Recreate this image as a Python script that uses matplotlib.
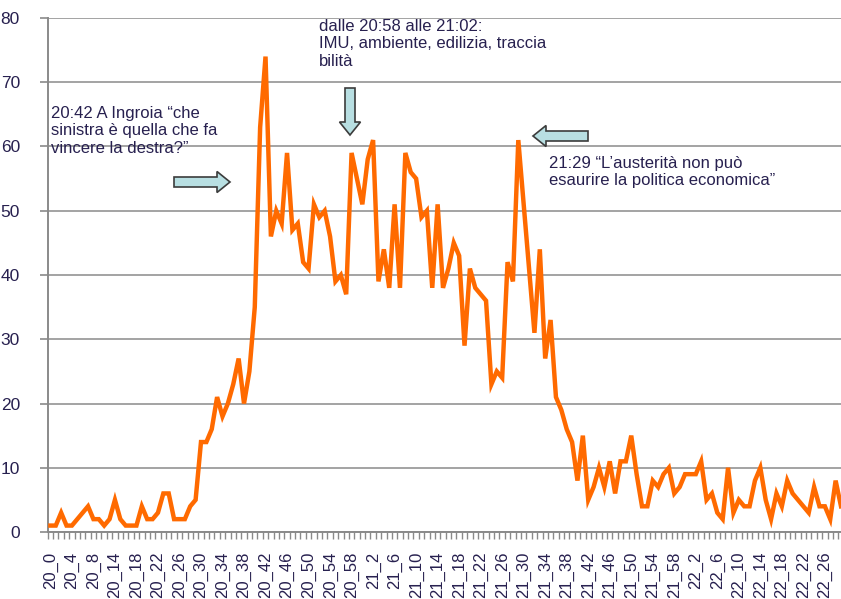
import matplotlib
matplotlib.use("Agg")
import matplotlib.pyplot as plt
import matplotlib.transforms as mtransforms
from matplotlib.patches import FancyArrow
from matplotlib.ticker import FixedLocator

plt.rcParams['font.family'] = ['Liberation Sans', 'DejaVu Sans']

# minutes present in the log, per hour (a few minutes after 20:08 are missing)
min_20 = list(range(0, 9)) + [10, 11, 12] + list(range(14, 60))
min_21 = list(range(0, 60))
min_22 = list(range(0, 30))

categories = ([f"20_{m}" for m in min_20] + [f"21_{m}" for m in min_21]
              + [f"22_{m}" for m in min_22])

# tweets per minute
tweets = [1, 1, 3, 1, 1, 2, 3, 4, 2, 2, 1, 2, 5, 2, 1, 1, 1, 4, 2, 2,
          3, 6, 6, 2, 2, 2, 4, 5, 14, 14, 16, 21, 18, 20, 23, 27, 20, 25, 35, 63,
          74, 46, 50, 48, 59, 47, 48, 42, 41, 51, 49, 50, 46, 39, 40, 37, 59, 55, 51, 58,
          61, 39, 44, 38, 51, 38, 59, 56, 55, 49, 50, 38, 51, 38, 41, 45, 43, 29, 41, 38,
          37, 36, 23, 25, 24, 42, 39, 61, 51, 41, 31, 44, 27, 33, 21, 19, 16, 14, 8, 15,
          5, 7, 10, 7, 11, 6, 11, 11, 15, 9, 4, 4, 8, 7, 9, 10, 6, 7, 9, 9,
          9, 11, 5, 6, 3, 2, 10, 3, 5, 4, 4, 8, 10, 5, 2, 6, 4, 8, 6, 5,
          4, 3, 7, 4, 4, 2, 8, 4]

label_every = 4
y_ticks = [0, 10, 20, 30, 40, 50, 60, 70, 80]

text_col = '#27204f'
grid_col = '#a3a3a3'

W, H = 841, 599
fig = plt.figure(figsize=(W / 100, H / 100), dpi=100)
ax = fig.add_axes([47.7 / W, 1 - 532 / H, 1 - 47.7 / W, (532 - 18) / H])

xs = list(range(len(tweets)))
ax.plot(xs, tweets, color='#ff6a00', lw=3.2, solid_joinstyle='miter', zorder=3)

ax.set_xlim(-0.5, 147.0)
ax.set_ylim(0, 80)
ax.set_yticks(y_ticks)
ax.yaxis.grid(True, color=grid_col, lw=1.4)
ax.set_axisbelow(True)

label_pos = xs[::label_every]
ax.xaxis.set_major_locator(FixedLocator(label_pos))
ax.set_xticklabels([categories[i] for i in label_pos], rotation=90)
ax.xaxis.set_minor_locator(FixedLocator([i - 0.5 for i in xs]))
ax.tick_params(axis='x', which='major', length=0, pad=14, labelsize=12,
               labelcolor=text_col)
ax.tick_params(axis='x', which='minor', length=5, width=1, color='#8a8a8a',
               direction='out')
ax.tick_params(axis='y', length=6, width=1.2, color='#8a8a8a', pad=14,
               labelsize=12.5, labelcolor=text_col)

for s in ['top', 'right']:
    ax.spines[s].set_visible(False)
for s in ['left', 'bottom']:
    ax.spines[s].set_color('#8a8a8a')
    ax.spines[s].set_linewidth(1.4)

# reference pixel coordinates (origin top-left) for the annotations
px = mtransforms.Affine2D().scale(1 / W, -1 / H).translate(0, 1) + fig.transFigure

notes = [
    (51, 106, "20:42 A Ingroia \u201cche\nsinistra \u00e8 quella che fa\nvincere la destra?\u201d"),
    (319, 19, "dalle 20:58 alle 21:02:\nIMU, ambiente, edilizia, traccia\nbilit\u00e0"),
    (549, 156, "21:29 \u201cL\u2019austerit\u00e0 non pu\u00f2\nesaurire la politica economica\u201d"),
]
for x, y, s in notes:
    fig.text(x, y, s, transform=px, ha='left', va='top', fontsize=12,
             color=text_col, linespacing=1.2)

arrow_kw = dict(width=10, head_width=21, length_includes_head=True,
                facecolor='#b8dfe2', edgecolor='#3c3c3c', lw=1.2,
                transform=px, zorder=5)
fig.add_artist(FancyArrow(174, 182, 56, 0, head_length=13, **arrow_kw))
fig.add_artist(FancyArrow(350, 88, 0, 47, head_length=13, **arrow_kw))
fig.add_artist(FancyArrow(588, 136, -55, 0, head_length=13, **arrow_kw))

fig.savefig('out.png', dpi=100)
